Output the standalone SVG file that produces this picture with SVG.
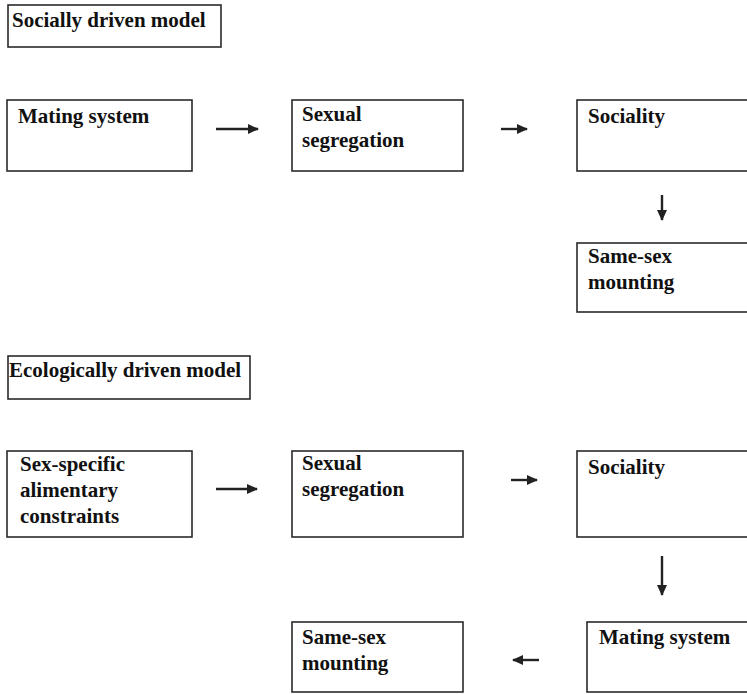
<svg xmlns="http://www.w3.org/2000/svg" width="747" height="694" viewBox="0 0 747 694">
<style>
.box{fill:#fff;stroke:#2a2a2a;stroke-width:1.6}
.t{font-family:"Liberation Serif","Times New Roman",serif;font-weight:bold;font-size:21px;fill:#111}
.c{stroke:#222;stroke-width:2.4;fill:none;marker-end:url(#ah)}
</style>
<defs>
<marker id="ah" markerUnits="userSpaceOnUse" markerWidth="11" markerHeight="11" viewBox="0 0 11 11" refX="10" refY="5.5" orient="auto">
<path d="M0,0.5 L11,5.5 L0,10.5 Z" fill="#222"/>
</marker>
</defs>
<rect width="747" height="694" fill="#fff"/>
<g id="title1"><rect class="box" x="8" y="5" width="213" height="42"/><text class="t" x="12" y="27">Socially driven model</text></g>
<g id="a1"><rect class="box" x="7" y="100" width="185" height="71"/><text class="t" x="18" y="123">Mating system</text></g>
<g id="a2"><rect class="box" x="292" y="100" width="171" height="71"/><text class="t" x="302" y="121">Sexual</text><text class="t" x="302" y="147">segregation</text></g>
<g id="a3"><rect class="box" x="577" y="100" width="180" height="71"/><text class="t" x="588" y="123">Sociality</text></g>
<g id="a4"><rect class="box" x="577" y="243" width="180" height="69"/><text class="t" x="588" y="263">Same-sex</text><text class="t" x="588" y="289">mounting</text></g>
<g id="title2"><rect class="box" x="8" y="356" width="242" height="43"/><text class="t" x="9" y="377">Ecologically driven model</text></g>
<g id="b1"><rect class="box" x="7" y="451" width="185" height="86"/><text class="t" x="20" y="471">Sex-specific</text><text class="t" x="20" y="497">alimentary</text><text class="t" x="20" y="523">constraints</text></g>
<g id="b2"><rect class="box" x="292" y="451" width="171" height="86"/><text class="t" x="302" y="470">Sexual</text><text class="t" x="302" y="496">segregation</text></g>
<g id="b3"><rect class="box" x="577" y="451" width="180" height="86"/><text class="t" x="588" y="474">Sociality</text></g>
<g id="b4"><rect class="box" x="587" y="622" width="170" height="70"/><text class="t" x="599" y="644">Mating system</text></g>
<g id="b5"><rect class="box" x="292" y="622" width="171" height="70"/><text class="t" x="302" y="644">Same-sex</text><text class="t" x="302" y="670">mounting</text></g>
<g id="connectors">
<line class="c" x1="216" y1="129" x2="258" y2="129"/>
<line class="c" x1="501" y1="129" x2="527" y2="129"/>
<line class="c" x1="662" y1="195" x2="662" y2="220"/>
<line class="c" x1="216" y1="489" x2="257" y2="489"/>
<line class="c" x1="511" y1="480" x2="537" y2="480"/>
<line class="c" x1="662" y1="556" x2="662" y2="595"/>
<line class="c" x1="539" y1="660" x2="513" y2="660"/>
</g>
</svg>
